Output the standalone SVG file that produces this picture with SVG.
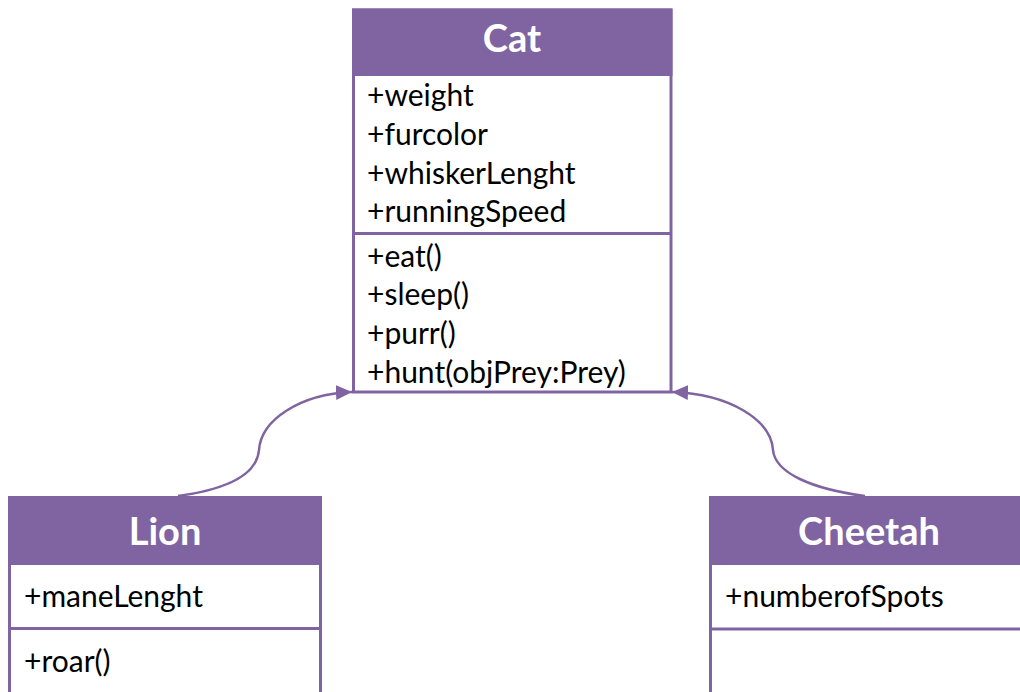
<svg xmlns="http://www.w3.org/2000/svg" width="1020" height="692" viewBox="0 0 1020 692">
<style>
.box{fill:#fff;stroke:#8064A2;stroke-width:3}
.head{fill:#8064A2}
.div{stroke:#8064A2;stroke-width:3}
.title{font-family:Lato,"Liberation Sans",sans-serif;font-weight:bold;font-size:38px;fill:#fff;text-anchor:middle}
.item{font-family:Lato,"Liberation Sans",sans-serif;font-size:30px;fill:#000}
.conn{fill:none;stroke:#8064A2;stroke-width:2.5}
</style>
<defs>
<marker id="tri" markerUnits="userSpaceOnUse" markerWidth="18" markerHeight="18" refX="16" refY="8" orient="auto">
<path d="M0,0.5 L16,8 L0,15.5 Z" fill="#8064A2"/>
</marker>
</defs>
<rect width="1020" height="692" fill="#fff"/>
<g id="connectors">
<path class="conn" d="M178,496 C230,489 257,473 259,450 C261,420 300,394 352,392" marker-end="url(#tri)"/>
<path class="conn" d="M865,496 C812,489 775,473 773,450 C771,420 730,394 672,392" marker-end="url(#tri)"/>
</g>
<g id="cat">
<rect class="box" x="353.5" y="10" width="317.5" height="382"/>
<rect class="head" x="352" y="8.5" width="320.5" height="67.5"/>
<text class="title" x="512" y="52">Cat</text>
<text class="item" x="367" y="106">+weight</text>
<text class="item" x="367" y="145">+furcolor</text>
<text class="item" x="367" y="184">+whiskerLenght</text>
<text class="item" x="367" y="222">+runningSpeed</text>
<line class="div" x1="352" y1="233.5" x2="672" y2="233.5"/>
<text class="item" x="367" y="267">+eat()</text>
<text class="item" x="367" y="305">+sleep()</text>
<text class="item" x="367" y="344">+purr()</text>
<text class="item" x="367" y="383">+hunt(objPrey:Prey)</text>
</g>
<g id="lion">
<rect class="box" x="9.5" y="497.5" width="311" height="300"/>
<rect class="head" x="8" y="496" width="314" height="69"/>
<text class="title" x="165" y="545">Lion</text>
<text class="item" x="24" y="607">+maneLenght</text>
<line class="div" x1="8" y1="628.5" x2="322" y2="628.5"/>
<text class="item" x="24" y="672">+roar()</text>
</g>
<g id="cheetah">
<rect class="box" x="710.5" y="497.5" width="330" height="300"/>
<rect class="head" x="709" y="496" width="330" height="69"/>
<text class="title" x="869" y="545">Cheetah</text>
<text class="item" x="725" y="607">+numberofSpots</text>
<line class="div" x1="709" y1="629" x2="1040" y2="629"/>
</g>
</svg>
